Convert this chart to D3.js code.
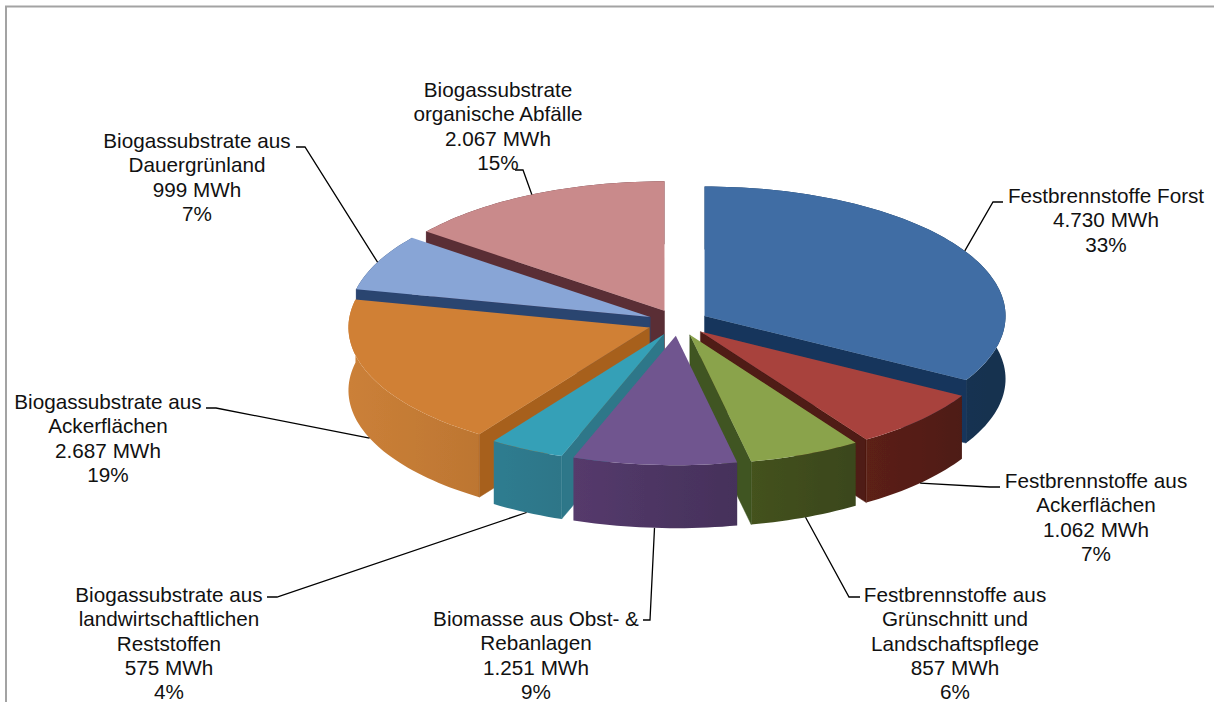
<!DOCTYPE html>
<html><head><meta charset="utf-8">
<script src="https://cdn.jsdelivr.net/npm/d3@7/dist/d3.min.js"></script>
<style>html,body{margin:0;padding:0;background:#fff}svg{display:block}</style>
</head><body><svg id="c" width="1214" height="702"></svg>
<script>
const categories = ["Festbrennstoffe Forst","Festbrennstoffe aus Ackerflächen","Festbrennstoffe aus Grünschnitt und Landschaftspflege","Biomasse aus Obst- & Rebanlagen","Biogassubstrate aus landwirtschaftlichen Reststoffen","Biogassubstrate aus Ackerflächen","Biogassubstrate aus Dauergrünland","Biogassubstrate organische Abfälle"];
const values = [4730,1062,857,1251,575,2687,999,2067];
const valueLabels = ["4.730 MWh","1.062 MWh","857 MWh","1.251 MWh","575 MWh","2.687 MWh","999 MWh","2.067 MWh"];
const percentLabels = ["33%","7%","6%","9%","4%","19%","7%","15%"];
const labelLines = [["Festbrennstoffe Forst"],["Festbrennstoffe aus","Ackerflächen"],["Festbrennstoffe aus","Grünschnitt und","Landschaftspflege"],["Biomasse aus Obst- &","Rebanlagen"],["Biogassubstrate aus","landwirtschaftlichen","Reststoffen"],["Biogassubstrate aus","Ackerflächen"],["Biogassubstrate aus","Dauergrünland"],["Biogassubstrate","organische Abfälle"]];
const topColors = ["#3f6da4","#a8423e","#8aa34b","#70558f","#35a0b7","#d08036","#88a5d6","#c98a8b"];
const wallLight = ["#1c3b60","#5c2018","#44521f","#553a6c","#2f7c90","#cb8038","#2e4a74","#5c2f36"];
const wallDark = ["#17324f","#4e1c14","#3a461b","#45315a","#2e7688","#bd7632","#2e4a74","#5c2f36"];
const sideColors = ["#17365c","#4f1a12","#3f5420","#45315a","#2d7789","#a7611f","#2c4470","#5a2f36"];
const labelX = [1106,1096,955,536,169,108,197,498];
const labelY = [203,488,602,626,602,409,148,97];
const elbows = [[[993,202],[1003,202]],[[990,487],[1000,487]],[[849,597],[860,597]],[[650,620],[643,620]],[[277,597],[267,597]],[[216,408],[206,408]],[[305,147],[296,147]],[[523,170],[515,170]]];

const svg = d3.select("#c");
const W=1214,H=702, cx=678, cy=322.6, R=301, tilt=0.43, depth=63, explode=0.102, lineH=24.3;
const x = d3.scaleLinear().domain([-1,1]).range([cx-R,cx+R]);
const y = d3.scaleLinear().domain([-1,1]).range([cy-R*tilt,cy+R*tilt]);
const slices = d3.pie().sort(null).value(d=>d).startAngle(0).endAngle(2*Math.PI)(values);

svg.append("path").attr("d",d3.line()([[W,6.5],[6,6.5],[6,H]])).attr("fill","none").attr("stroke","#a3a3a3").attr("stroke-width",2);
const defs = svg.append("defs");
defs.append("filter").attr("id","soft").attr("x","-5%").attr("y","-5%").attr("width","110%").attr("height","110%")
  .append("feGaussianBlur").attr("stdDeviation",0.7);

const line = d3.line();
function pt(s,a,r,z){ const m=(s.startAngle+s.endAngle)/2;
  return [x(explode*Math.sin(m)+r*Math.sin(a)), y(-explode*Math.cos(m)-r*Math.cos(a))+z]; }
function arcPts(s,z){ const n=Math.max(8,Math.round((s.endAngle-s.startAngle)*40));
  return d3.range(n+1).map(i=>pt(s,s.startAngle+(s.endAngle-s.startAngle)*i/n,1,z)); }

const order = [7,6,0,5,1,4,2,3];
const pie = svg.append("g").attr("filter","url(#soft)");
order.forEach(i=>{
  const s=slices[i], g=pie.append("g");
  const a=s.startAngle,b=s.endAngle;
  const t=arcPts(s,0), w=arcPts(s,depth);
  const xs=t.map(p=>p[0]);
  const grad=defs.append("linearGradient").attr("id","w"+i).attr("gradientUnits","userSpaceOnUse")
    .attr("x1",d3.min(xs)).attr("x2",d3.max(xs)).attr("y1",0).attr("y2",0);
  grad.append("stop").attr("offset",0).attr("stop-color",wallLight[i]);
  grad.append("stop").attr("offset",1).attr("stop-color",wallDark[i]);
  g.append("path").attr("d",line(t.concat(w.slice().reverse()))+"Z").attr("fill","url(#w"+i+")");
  if(Math.sin(a)<-1e-6) g.append("path").attr("d",line([pt(s,a,0,0),pt(s,a,1,0),pt(s,a,1,depth),pt(s,a,0,depth)])+"Z").attr("fill",sideColors[i]).attr("stroke",sideColors[i]).attr("stroke-width",0.5);
  if(Math.sin(b)>1e-6) g.append("path").attr("d",line([pt(s,b,0,0),pt(s,b,1,0),pt(s,b,1,depth),pt(s,b,0,depth)])+"Z").attr("fill",sideColors[i]).attr("stroke",sideColors[i]).attr("stroke-width",0.5);
  g.append("path").attr("d",line([pt(s,a,0,0)].concat(t))+"Z").attr("fill",topColors[i]);
});

const leaders=svg.append("g");
slices.forEach((s,i)=>{
  const m=(s.startAngle+s.endAngle)/2, front=Math.cos(m)<0;
  const p=pt(s,m,1,front?depth:0);
  leaders.append("path").attr("d",line([p].concat(elbows[i]))).attr("fill","none").attr("stroke","#000").attr("stroke-width",1.3);
});

const labels=svg.append("g").attr("font-family","'Liberation Sans',Arial,sans-serif").attr("font-size",20.7).attr("fill","#111").attr("text-anchor","middle");
categories.forEach((c,i)=>{
  const t=labels.append("text").attr("x",labelX[i]).attr("y",labelY[i]);
  labelLines[i].concat([valueLabels[i],percentLabels[i]]).forEach((l,j)=>{
    t.append("tspan").attr("x",labelX[i]).attr("y",labelY[i]+j*lineH).text(l);
  });
});
</script></body></html>
